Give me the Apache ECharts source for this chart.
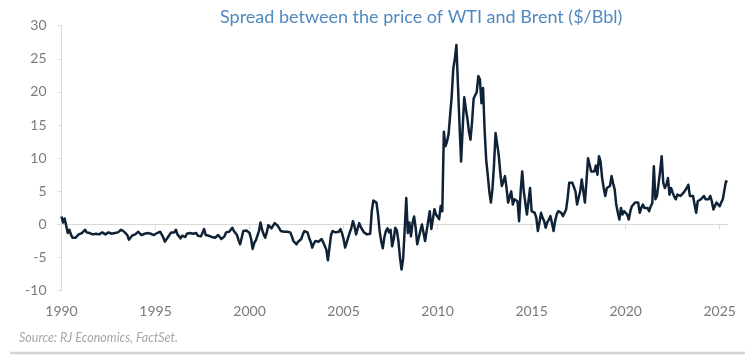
<!DOCTYPE html>
<html>
<head>
<meta charset="utf-8">
<script src="https://cdn.jsdelivr.net/npm/echarts@6/dist/echarts.min.js"></script>
<style>html,body{margin:0;padding:0;background:#fff}#c{width:748px;height:361px}</style>
</head>
<body>
<div id="c"></div>
<script>
// Monthly Brent-WTI spread ($/Bbl), Jan 1990 .. Jun 2025
const y1990 = [1.2, 0.3, 0.9, 0.6, -1.3, -0.8, -1.5, -2.0, -2.1, -2.0, -1.9, -1.5];
const y1991 = [-1.6, -1.3, -1.0, -0.8, -1.2, -1.0, -1.3, -1.2, -1.5, -1.6, -1.4, -1.3];
const y1992 = [-1.5, -1.6, -1.2, -1.4, -1.5, -1.3, -1.2, -1.1, -1.4, -1.6, -1.3, -1.1];
const y1993 = [-1.2, -0.9, -0.8, -0.9, -1.1, -1.3, -1.6, -2.3, -2.1, -1.7, -1.4, -1.5];
const y1994 = [-1.3, -1.1, -1.4, -1.6, -1.5, -1.4, -1.6, -1.3, -1.5, -1.4, -1.2, -1.6];
const y1995 = [-1.5, -1.3, -1.2, -1.1, -1.4, -2.0, -2.6, -2.3, -1.9, -1.6, -1.2, -0.9];
const y1996 = [-1.2, -0.8, -1.5, -1.8, -2.1, -1.7, -1.5, -1.9, -1.4, -1.2, -1.3, -1.6];
const y1997 = [-1.4, -1.6, -1.3, -1.7, -1.9, -1.8, -1.9, -0.7, -1.6, -1.9, -1.7, -1.8];
const y1998 = [-1.9, -1.7, -2.0, -1.8, -1.6, -1.9, -2.2, -2.5, -1.8, -1.2, -1.0, -1.1];
const y1999 = [-0.9, -0.5, -1.0, -1.2, -1.6, -2.4, -3.0, -2.0, -1.0, -0.7, -0.9, -1.2];
const y2000 = [-1.3, -2.2, -3.7, -2.8, -2.4, -2.6, -1.0, 0.3, -0.8, -1.5, -2.0, -1.2];
const y2001 = [-0.1, 0.0, -0.6, -0.3, 0.2, -0.1, -0.2, -0.6, -1.0, -0.9, -1.1, -1.0];
const y2002 = [-1.1, -1.0, -1.2, -1.8, -2.5, -2.7, -3.0, -2.6, -2.8, -2.2, -1.5, -1.0];
const y2003 = [-0.7, -1.2, -2.0, -2.6, -3.5, -2.9, -2.5, -2.3, -2.6, -2.4, -2.2, -2.7];
const y2004 = [-3.0, -3.8, -5.4, -3.5, -1.6, -1.0, -0.8, -1.2, -0.9, -1.1, -0.7, -1.3];
const y2005 = [-2.2, -3.5, -2.7, -1.9, -1.2, -0.5, 0.5, -0.3, -1.5, -0.6, 0.2, -0.4];
const y2006 = [-0.8, -1.2, -1.0, -1.5, -1.3, -1.4, 2.0, 3.6, 3.7, 3.3, 1.5, -1.0];
const y2007 = [-2.5, -3.6, -2.0, -1.0, -0.6, -1.2, -0.8, -3.3, -2.2, -0.5, -0.9, -2.5];
const y2008 = [-5.0, -6.8, -5.2, -0.8, 4.0, -1.3, 0.3, -1.8, 0.2, 1.2, -0.5, -3.0];
const y2009 = [-3.0, -1.0, 0.0, -1.2, -2.5, -1.0, 0.5, 2.0, -0.7, 0.8, 2.3, 1.5];
const y2010 = [1.5, 0.8, 2.8, 2.0, 14.0, 11.8, 12.5, 13.6, 16.5, 19.3, 23.5, 25.0];
const y2011 = [27.1, 21.0, 15.0, 9.5, 14.5, 19.2, 17.5, 16.0, 14.0, 12.8, 15.5, 19.0];
const y2012 = [18.8, 20.0, 22.4, 21.9, 18.3, 20.6, 14.3, 9.8, 7.5, 5.0, 3.3, 5.3];
const y2013 = [9.0, 13.8, 13.6, 10.5, 7.8, 5.8, 6.5, 7.3, 5.5, 3.3, 4.2, 5.0];
const y2014 = [3.0, 3.8, 3.6, 3.5, 0.5, 5.0, 8.0, 5.0, 4.8, 1.5, 3.5, 5.5];
const y2015 = [2.0, 1.9, 1.75, 1.0, -1.0, 0.3, 1.75, 1.0, 0.5, -0.5, 0.3, 0.75];
const y2016 = [1.25, 0.2, -1.0, 0.5, 1.5, 2.0, 1.9, 1.75, 1.25, 1.5, 2.25, 4.0];
const y2017 = [6.3, 6.0, 6.3, 6.5, 5.0, 3.0, 3.3, 5.0, 6.8, 6.5, 3.3, 6.5];
const y2018 = [10.0, 9.0, 8.0, 8.2, 8.0, 8.9, 7.5, 10.3, 9.5, 7.0, 5.5, 4.3];
const y2019 = [5.5, 5.6, 5.8, 7.3, 6.2, 5.3, 3.0, 1.8, 0.75, 2.5, 1.5, 2.0];
const y2020 = [2.25, 1.5, 0.75, 2.0, 2.75, 3.0, 3.3, 3.2, 3.3, 1.75, 2.5, 3.0];
const y2021 = [2.5, 2.25, 2.5, 2.0, 2.75, 3.2, 8.8, 3.8, 4.3, 4.5, 8.0, 10.3];
const y2022 = [6.3, 5.5, 6.0, 7.0, 4.5, 5.5, 4.8, 4.2, 3.8, 4.5, 4.4, 4.3];
const y2023 = [4.5, 4.8, 5.0, 5.5, 6.0, 4.3, 4.5, 4.3, 3.0, 1.75, 3.5, 3.6];
const y2024 = [3.8, 4.0, 4.3, 3.8, 3.5, 3.8, 4.3, 3.5, 2.25, 2.8, 3.3, 3.0];
const y2025 = [2.75, 3.3, 3.8, 3.8, 6.5, 6.4];

const yearBlocks = [y1990,y1991,y1992,y1993,y1994,y1995,y1996,y1997,y1998,y1999,
  y2000,y2001,y2002,y2003,y2004,y2005,y2006,y2007,y2008,y2009,
  y2010,y2011,y2012,y2013,y2014,y2015,y2016,y2017,y2018,y2019,
  y2020,y2021,y2022,y2023,y2024,y2025];
const firstYear = 1990;
const yTicks = [-10, -5, 0, 5, 10, 15, 20, 25, 30];
const xTickYears = [1990, 1995, 2000, 2005, 2010, 2015, 2020, 2025];

const categories = [];
const values = [];
yearBlocks.forEach((arr, i) => {
  arr.forEach((v, m) => {
    categories.push((firstYear + i) + '-' + String(m + 1).padStart(2, '0'));
    values.push(v);
  });
});
const isTick = (idx) => {
  const c = categories[idx];
  return c.endsWith('-01') && xTickYears.includes(+c.slice(0, 4));
};

const chart = echarts.init(document.getElementById('c'), null, {renderer: 'canvas'});
chart.setOption({
  animation: false,
  backgroundColor: '#ffffff',
  title: {
    text: 'Spread between the price of WTI and Brent ($/Bbl)',
    left: 215, top: 3,
    textStyle: {fontFamily: 'Lato', fontSize: 18, fontWeight: 'normal', color: '#5089c0'}
  },
  grid: {left: 61.5, right: 20.5, top: 25.7, bottom: 70.3, containLabel: false},
  xAxis: [{
    type: 'category', data: categories, boundaryGap: false, position: 'bottom',
    axisLine: {onZero: true, lineStyle: {color: '#d9d9d9', width: 1}},
    axisTick: {show: true, interval: isTick, length: 5, lineStyle: {color: '#d9d9d9'}},
    axisLabel: {show: false},
    splitLine: {show: false}
  }, {
    type: 'category', data: categories, boundaryGap: false, position: 'bottom',
    axisLine: {show: false, onZero: false},
    axisTick: {show: false},
    axisLabel: {
      show: true, interval: isTick, margin: 14,
      formatter: (v) => v.slice(0, 4),
      color: '#7a7a7a', fontFamily: 'Lato', fontSize: 14
    },
    splitLine: {show: false}
  }],
  yAxis: {
    type: 'value', min: yTicks[0], max: yTicks[yTicks.length - 1], interval: 5,
    axisLine: {show: true, lineStyle: {color: '#d9d9d9'}},
    axisTick: {show: true, length: 4, lineStyle: {color: '#d9d9d9'}},
    axisLabel: {margin: 15, color: '#7a7a7a', fontFamily: 'Lato', fontSize: 14},
    splitLine: {show: false}
  },
  series: [{
    type: 'line', data: values, xAxisIndex: 0,
    showSymbol: false, symbol: 'none',
    lineStyle: {color: '#0f2236', width: 2.5, join: 'round'}
  }],
  graphic: [{
    type: 'text', left: 19, top: 331,
    style: {text: 'Source: RJ Economics, FactSet.', fill: '#a6a6a6',
      font: 'italic 12.5px Lato'}
  }, {
    type: 'line', shape: {x1: 10, y1: 353, x2: 745, y2: 353},
    style: {stroke: '#d4d4d4', lineWidth: 2.5}
  }]
});
</script>
</body>
</html>
